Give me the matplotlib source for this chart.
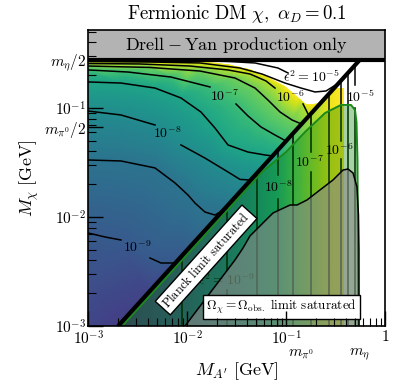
import numpy as np
import matplotlib
matplotlib.use("Agg")
import matplotlib.pyplot as plt
from matplotlib.patches import Polygon, Rectangle
from matplotlib.tri import Triangulation, LinearTriInterpolator
import matplotlib.ticker as mticker
import matplotlib.transforms as mtrans

plt.rcParams['mathtext.fontset'] = 'cm'
plt.rcParams['font.family'] = ['DejaVu Serif']

nan = np.nan
# ---------------- constants / axis ranges ----------------
M_PI0 = 0.135
M_ETA = 0.548
X_LIM = (1e-3, 1.0)
Y_LIM = (1e-3, 0.525)

# ---------------- epsilon^2 contours left of M_A' = 2 M_chi (log10 values) ----------------
c_m9_lx = [-3.0, -2.832, -2.670, nan, -2.377, -2.266, -2.124, -2.07]
c_m9_ly = [-2.147, -2.183, -2.211, nan, -2.376, -2.422, -2.422, -2.371]
c_m85_lx = [-3.0, -2.670, -2.326, -2.124, -1.993, -1.922, -1.822, -1.721, -1.635]
c_m85_ly = [-1.477, -1.486, -1.550, -1.688, -1.798, -1.872, -1.954, -1.982, -1.936]
c_m8_lx = [-3.0, -2.670, -2.326, nan, -2.064, -1.822, -1.589, -1.468, -1.36]
c_m8_ly = [-1.028, -1.064, -1.156, nan, -1.339, -1.459, -1.587, -1.655, -1.661]
c_m75_lx = [-3.0, -2.670, -2.326, -2.064, -1.862, -1.721, -1.589, -1.387, -1.215, -1.139]
c_m75_ly = [-0.761, -0.771, -0.817, -0.908, -1.037, -1.183, -1.339, -1.404, -1.431, -1.440]
c_m7_lx = [-3.0, -2.599, -2.165, -1.771, nan, -1.508, -1.387, -1.256, -1.114, -1.002]
c_m7_ly = [-0.651, -0.670, -0.716, -0.807, nan, -0.963, -1.073, -1.174, -1.248, -1.303]
c_m65_lx = [-3.0, -2.377, -1.872, -1.518, -1.316, -1.185, -1.063, -0.942, -0.846]
c_m65_ly = [-0.615, -0.628, -0.661, -0.725, -0.817, -0.927, -1.037, -1.110, -1.147]
c_m6_lx = [-3.0, -2.478, -1.973, -1.589, -1.367, -1.205, -1.114, nan, -0.831, -0.771]
c_m6_ly = [-0.592, -0.596, -0.615, -0.651, -0.688, -0.752, -0.817, nan, -0.963, -1.072]
c_m55_lx = [-3.0, -2.377, -1.872, -1.468, -1.246, -1.013, -0.851, -0.710, -0.599, -0.47]
c_m55_ly = [-0.573, -0.578, -0.587, -0.633, -0.688, -0.771, -0.817, -0.853, -0.844, -0.771]
c_m5_lx = [-3.0, -1.872, -1.589, -1.316, -1.084, -0.982]
c_m5_ly = [-0.564, -0.567, -0.573, -0.587, -0.633, -0.679]

# upper edge of computed region (log10), value of field there
edge_lx = [-3.0, -2.4, -1.872, -1.589, -1.367, -1.185, -1.013, -0.882, -0.801, -0.730, -0.64]
edge_ly = [-0.560, -0.562, -0.569, -0.596, -0.642, -0.716, -0.798, -0.899, -0.963, -0.963, -0.941]
edge_level = -5.45
# extra field values near the lower corner (log10 MA', log10 Mchi, log10 eps^2)
anchor_lx = [-3.0, -2.699, -3.0, -2.4, -2.2]
anchor_ly = [-3.0, -3.0, -2.6, -2.7, -2.5]
anchor_L = [-9.35, -9.5, -9.2, -9.4, -9.25]

# ---------------- epsilon^2 right of the diagonal (depends on M_A' only) ----------------
r_lx = [-2.75, -2.05, -1.598, -1.296, -1.084, -0.933, -0.751, -0.569, -0.445, -0.377, -0.306]
r_L = [-10.0, -9.5, -9.0, -8.5, -8.0, -7.5, -7.0, -6.5, -6.0, -5.5, -5.0]
r_top_ly = -0.817
r_right_lx = -0.42
# vertical contour lines and label gaps (log10 M_chi)
v_lx = [-2.05, -1.598, -1.296, -1.084, -0.933, -0.751, -0.569, -0.445, -0.377, -0.306]
v_gap_lo = [nan, -2.67, nan, -1.835, nan, -1.587, nan, -1.468, nan, -1.0]
v_gap_hi = [nan, -2.49, nan, -1.615, nan, -1.404, nan, -1.303, nan, -0.79]

# ---------------- Omega_chi = Omega_obs region ----------------
om_lx = [-1.003, -0.811, -0.609, -0.448, -0.347, -0.306, -0.291, -0.281, -0.276, -0.27]
om_ly = [-1.404, -1.220, -1.046, -0.972, -0.972, -1.018, -1.128, -1.477, -2.303, -3.0]
om_start_lx = -1.24
# ---------------- grey region ----------------
gr_lx = [-2.023, -1.518, -1.437, -1.367, -1.236, -1.134, -0.962, -0.892, -0.791, -0.660,
         -0.529, -0.427, -0.377, -0.326, -0.286, -0.271, -0.266, -0.266]
gr_ly = [-3.0, -2.394, -2.284, -2.174, -2.055, -1.963, -1.890, -1.890, -1.844, -1.752,
         -1.661, -1.569, -1.560, -1.596, -1.725, -1.982, -2.303, -3.0]

# ---------------- labels ----------------
clab_text = [r"$10^{-9}$", r"$10^{-8}$", r"$10^{-7}$", r"$10^{-6}$", r"$\epsilon^2=10^{-5}$",
             r"$10^{-5}$", r"$10^{-6}$", r"$10^{-7}$", r"$10^{-8}$"]
clab_lx = [-2.503, -2.203, -1.625, -0.962, -0.747, -0.256, -0.47, -0.771, -1.079]
clab_ly = [-2.275, -1.229, -0.890, -0.899, -0.716, -0.899, -1.385, -1.495, -1.725]

DIAG = 2.0   # M_A' = 2 M_chi
GREEN_DIAG = 2.2

cmap = plt.get_cmap('viridis')
VMIN, VMAX = -10.4, -5.4          # colour scale, left of the diagonal
R_VMIN, R_VMAX = -10.54, -6.37    # colour scale, right of the diagonal

fig = plt.figure(figsize=(4.15, 3.86), dpi=100)
ax = fig.add_axes([88.3/415, 60/386, 297/415, 296.5/386])
ax.set_xscale('log')
ax.set_yscale('log')
ax.set_xlim(*X_LIM)
ax.set_ylim(*Y_LIM)

P = lambda a: 10.0**np.asarray(a, dtype=float)

# ---- left field ----
left_lines = [(-9.0, c_m9_lx, c_m9_ly), (-8.5, c_m85_lx, c_m85_ly), (-8.0, c_m8_lx, c_m8_ly),
              (-7.5, c_m75_lx, c_m75_ly), (-7.0, c_m7_lx, c_m7_ly), (-6.5, c_m65_lx, c_m65_ly),
              (-6.0, c_m6_lx, c_m6_ly)]
px, py, pz = [], [], []
for L, lx, ly in left_lines:
    for a, b in zip(lx, ly):
        if not np.isnan(a):
            px.append(a); py.append(b); pz.append(L)
for a, b in zip(edge_lx, edge_ly):
    px.append(a); py.append(b); pz.append(edge_level)
for a, b, L in zip(anchor_lx, anchor_ly, anchor_L):
    px.append(a); py.append(b); pz.append(L)
px, py, pz = np.array(px), np.array(py), np.array(pz)
tri_log = Triangulation(px, py)
interp = LinearTriInterpolator(tri_log, pz)
gx = np.linspace(-3.0, -0.5, 420)
gy = np.linspace(-3.0, -0.55, 420)
GX, GY = np.meshgrid(gx, gy)
GZ = interp(GX, GY)
lf = ax.pcolormesh(P(gx), P(gy), GZ, shading='nearest', cmap=cmap, vmin=VMIN, vmax=VMAX,
                   zorder=1, rasterized=True)
diag_bot_lx = np.log10(DIAG * 1e-3)
left_poly_lx = [-3.0, diag_bot_lx] + edge_lx[::-1]
left_poly_ly = [-3.0, -3.0] + edge_ly[::-1]
clip_left = Polygon(np.column_stack([P(left_poly_lx), P(left_poly_ly)]), closed=True,
                    transform=ax.transData, fill=False, lw=0)
ax.add_patch(clip_left)
lf.set_clip_path(clip_left)

# ---- right field ----
RX = np.vstack([P(r_lx), P(r_lx)])
RY = np.vstack([np.full(len(r_lx), 1e-3), np.full(len(r_lx), 0.6)])
RZ = np.vstack([r_L, r_L])
pm = ax.pcolormesh(RX, RY, RZ, shading='gouraud', cmap=cmap, vmin=R_VMIN, vmax=R_VMAX, zorder=1)
top_diag_lx = r_top_ly + np.log10(DIAG)
clip_right = Polygon(np.column_stack([P([diag_bot_lx, top_diag_lx, r_right_lx, r_right_lx]),
                                      P([-3.0, r_top_ly, r_top_ly, -3.0])]), closed=True,
                     transform=ax.transData, fill=False, lw=0)
ax.add_patch(clip_right)
pm.set_clip_path(clip_right)

# ---- left contour lines ----
for L, lx, ly in left_lines + [(-5.5, c_m55_lx, c_m55_ly), (-5.0, c_m5_lx, c_m5_ly)]:
    ax.plot(P(lx), P(ly), color='black', lw=1.1, zorder=2)

# ---- vertical contour lines ----
for lx, g0, g1 in zip(v_lx, v_gap_lo, v_gap_hi):
    ytop = lx - np.log10(DIAG)
    if np.isnan(g0):
        ax.plot(P([lx, lx]), P([-3.0, ytop]), color='black', lw=1.1, zorder=2)
    else:
        ax.plot(P([lx, lx, nan, lx, lx]), P([-3.0, g0, nan, g1, ytop]), color='black', lw=1.1, zorder=2)

ax.text(P(-1.607), P(-2.578), r"$\epsilon^2=10^{-9}$", ha='center', va='center', fontsize=10, zorder=2.2)

# ---- green region ----
g_bot_lx = -3.0 + np.log10(GREEN_DIAG)
g_start_ly = om_start_lx - np.log10(GREEN_DIAG)
g_lx = [g_bot_lx, om_start_lx] + om_lx
g_ly = [-3.0, g_start_ly] + om_ly
ax.fill(P(g_lx), P(g_ly), color='green', alpha=0.35, lw=0, zorder=3)
ax.plot(P(g_lx), P(g_ly), color='#1b8a1b', lw=1.4, zorder=4)

# ---- grey region ----
ax.fill(P(gr_lx), P(gr_ly), color='#8a8a8a', alpha=0.6, lw=0, zorder=3.5)
ax.plot(P(gr_lx), P(gr_ly), color='black', lw=1.1, zorder=4)

# ---- thick lines and Drell-Yan box ----
ax.plot(P([diag_bot_lx, np.log10(M_ETA)]), [1e-3, M_ETA / DIAG], color='black', lw=3.0,
        zorder=5, solid_capstyle='butt')
ax.add_patch(Rectangle((X_LIM[0], M_ETA / 2), X_LIM[1] - X_LIM[0], Y_LIM[1] - M_ETA / 2,
                       facecolor='#b3b3b3', edgecolor='none', zorder=5))
ax.axhline(M_ETA / 2, color='black', lw=3.0, zorder=5.5)
ax.text(np.sqrt(X_LIM[0] * X_LIM[1]), np.sqrt(M_ETA / 2 * Y_LIM[1]),
        r"$\mathrm{Drell-Yan\ production\ only}$", ha='center', va='center', fontsize=13, zorder=6)

# ---- contour labels ----
for t, lx, ly in zip(clab_text, clab_lx, clab_ly):
    ax.text(P(lx), P(ly), t, ha='center', va='center', fontsize=10, zorder=6)

ax.text(P(-1.81), P(-2.394), r"$\mathrm{Planck\ limit\ saturated}$", rotation=48,
        rotation_mode='anchor', ha='center', va='center', fontsize=9, zorder=7,
        bbox=dict(boxstyle='square,pad=0.25', fc='white', ec='black', lw=1.0))
ax.text(P(-1.049), P(-2.826), r"$\Omega_\chi=\Omega_{\rm obs.}\ \mathrm{limit\ saturated}$",
        ha='center', va='center', fontsize=9.5, zorder=7,
        bbox=dict(boxstyle='square,pad=0.25', fc='white', ec='black', lw=1.0))

# ---- ticks ----
ax.xaxis.set_major_locator(mticker.FixedLocator([1e-3, 1e-2, 1e-1, 1.0]))
ax.xaxis.set_major_formatter(mticker.FixedFormatter([r"$10^{-3}$", r"$10^{-2}$", r"$10^{-1}$", r"$1$"]))
ax.xaxis.set_minor_locator(mticker.LogLocator(base=10, subs=np.arange(2, 10)))
ax.xaxis.set_minor_formatter(mticker.NullFormatter())
ax.yaxis.set_major_locator(mticker.FixedLocator([1e-3, 1e-2, 1e-1, M_PI0 / 2, M_ETA / 2]))
ax.yaxis.set_major_formatter(mticker.FixedFormatter([r"$10^{-3}$", r"$10^{-2}$", r"$10^{-1}$",
                                                     r"$m_{\pi^0}/2$", r"$m_\eta/2$"]))
ax.yaxis.set_minor_locator(mticker.LogLocator(base=10, subs=np.arange(2, 10)))
ax.yaxis.set_minor_formatter(mticker.NullFormatter())
ax.tick_params(which='both', direction='in', top=False, right=False, labelsize=11)
ax.tick_params(which='major', length=11, width=1.0)
ax.tick_params(which='minor', length=5.5, width=0.8)
ax.tick_params(axis='x', which='major', pad=2.5)
ax.tick_params(axis='y', which='major', pad=1.5)
ax.xaxis.set_zorder(20)
ax.yaxis.set_zorder(20)
for s in ax.spines.values():
    s.set_zorder(20)
    s.set_linewidth(1.2)

bt = mtrans.blended_transform_factory(ax.transData, ax.transAxes)
ax.text(M_PI0 * 1.04, -0.097, r"$m_{\pi^0}$", transform=bt, ha='center', va='center', fontsize=11)
ax.text(M_ETA, -0.097, r"$m_\eta$", transform=bt, ha='center', va='center', fontsize=11)

fig.text(236.7/415, 1 - 14/386, r"$\mathrm{Fermionic\ DM}\ \chi,\ \alpha_D=0.1$",
         ha='center', va='center', fontsize=13.5)
fig.text(236.7/415, 1 - 371/386, r"$M_{A'}\ \mathrm{[GeV]}$", ha='center', va='center', fontsize=13)
fig.text(29/415, 1 - 178/386, r"$M_\chi\ \mathrm{[GeV]}$", ha='center', va='center',
         rotation=90, fontsize=13)

fig.savefig("out.png", dpi=100)
